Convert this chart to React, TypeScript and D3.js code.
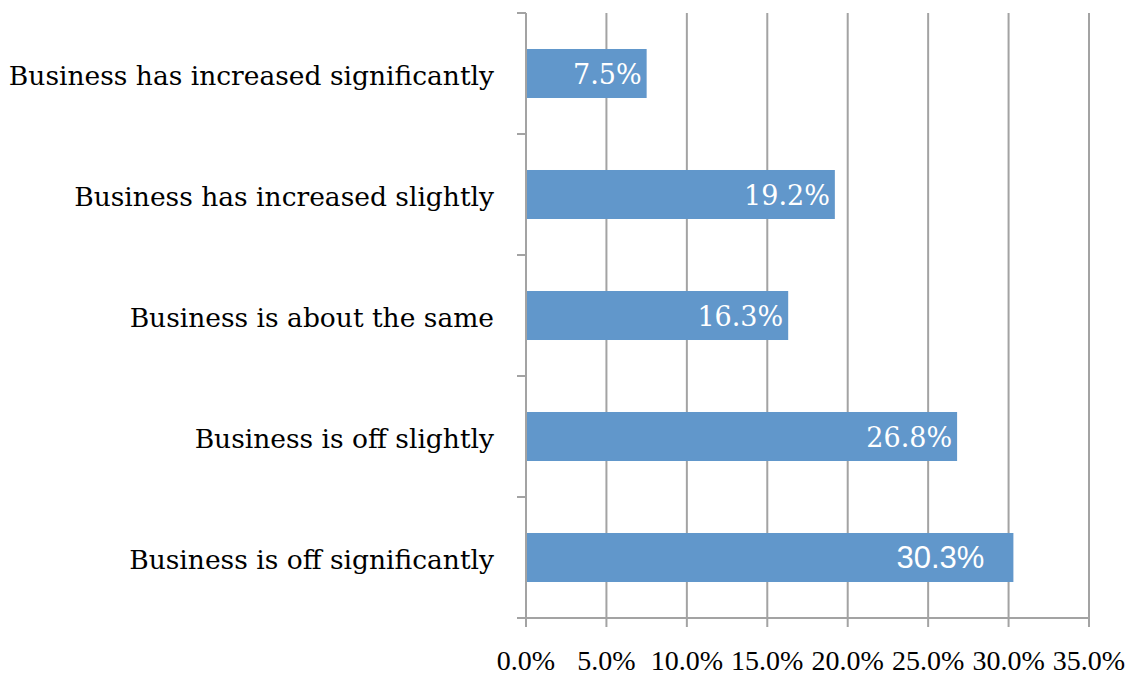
import React, {useEffect, useRef} from 'react';
import * as d3 from 'd3';

const categories = [
  'Business has increased significantly',
  'Business has increased slightly',
  'Business is about the same',
  'Business is off slightly',
  'Business is off significantly',
];
const values = [7.5, 19.2, 16.3, 26.8, 30.3];
const valueLabels = ['7.5%', '19.2%', '16.3%', '26.8%', '30.3%'];
const xTicks = [0, 5, 10, 15, 20, 25, 30, 35];
const xTickLabels = ['0.0%', '5.0%', '10.0%', '15.0%', '20.0%', '25.0%', '30.0%', '35.0%'];

const WIDTH = 1133;
const HEIGHT = 675;
const SERIF = '"DejaVu Serif", serif';
const TIMES = '"Liberation Serif", "Times New Roman", serif';
const SANS = '"Liberation Sans", Arial, sans-serif';

export default function App() {
  const ref = useRef<SVGSVGElement>(null);

  useEffect(() => {
    const svg = d3.select(ref.current);
    svg.selectAll('*').remove();

    const left = 526;
    const right = 1089;
    const top = 13;
    const bottom = 618;

    const x = d3.scaleLinear().domain([0, 35]).range([left, right]);
    const y = d3.scaleBand<string>()
        .domain(categories)
        .range([top, bottom])
        .paddingInner(0.595)
        .paddingOuter(0.2975);

    const gridColor = '#a3a3a3';

    // vertical gridlines
    svg.append('g')
        .selectAll('line')
        .data(xTicks.slice(1))
        .join('line')
        .attr('x1', (d) => x(d))
        .attr('x2', (d) => x(d))
        .attr('y1', top)
        .attr('y2', bottom)
        .attr('stroke', gridColor)
        .attr('stroke-width', 2);

    // bars
    svg.append('g')
        .selectAll('rect')
        .data(values)
        .join('rect')
        .attr('x', x(0))
        .attr('y', (d, i) => y(categories[i]) as number)
        .attr('width', (d) => x(d) - x(0))
        .attr('height', y.bandwidth())
        .attr('fill', '#6197cb');

    // y axis line + ticks
    const band = (bottom - top) / categories.length;
    const yTickPos = d3.range(categories.length + 1).map((i) => top + i * band);
    const axisG = svg.append('g');
    axisG.append('line')
        .attr('x1', left).attr('x2', left)
        .attr('y1', top).attr('y2', bottom)
        .attr('stroke', gridColor).attr('stroke-width', 2);
    axisG.selectAll('.ytick')
        .data(yTickPos)
        .join('line')
        .attr('class', 'ytick')
        .attr('x1', left - 9).attr('x2', left)
        .attr('y1', (d) => d).attr('y2', (d) => d)
        .attr('stroke', gridColor).attr('stroke-width', 2);

    // x axis line + ticks
    axisG.append('line')
        .attr('x1', left - 9).attr('x2', right)
        .attr('y1', bottom).attr('y2', bottom)
        .attr('stroke', gridColor).attr('stroke-width', 2);
    axisG.selectAll('.xtick')
        .data(xTicks)
        .join('line')
        .attr('class', 'xtick')
        .attr('x1', (d) => x(d)).attr('x2', (d) => x(d))
        .attr('y1', bottom).attr('y2', bottom + 9)
        .attr('stroke', gridColor).attr('stroke-width', 2);

    // x tick labels
    svg.append('g')
        .selectAll('text')
        .data(xTicks)
        .join('text')
        .attr('x', (d) => x(d))
        .attr('y', 670)
        .attr('text-anchor', 'middle')
        .attr('font-family', TIMES)
        .attr('font-size', 28)
        .attr('fill', '#000')
        .text((d, i) => xTickLabels[i]);

    // category labels
    svg.append('g')
        .selectAll('text')
        .data(categories)
        .join('text')
        .attr('x', 494)
        .attr('y', (d) => (y(d) as number) + y.bandwidth() / 2 + 11)
        .attr('text-anchor', 'end')
        .attr('font-family', SERIF)
        .attr('font-size', 26.5)
        .attr('fill', '#000')
        .text((d) => d);

    // value labels
    svg.append('g')
        .selectAll('text')
        .data(values)
        .join('text')
        .attr('x', (d, i) => x(d) - (i === 4 ? 29 : 5))
        .attr('y', (d, i) => (y(categories[i]) as number) + y.bandwidth() / 2 + 10)
        .attr('text-anchor', 'end')
        .attr('font-family', (d, i) => (i === 4 ? SANS : SERIF))
        .attr('font-size', (d, i) => (i === 4 ? 31 : 27))
        .attr('fill', '#fff')
        .text((d, i) => valueLabels[i]);
  }, []);

  return (
    <svg ref={ref} width={WIDTH} height={HEIGHT}
      style={{position: 'absolute', left: 0, top: 0, background: '#fff'}} />
  );
}
